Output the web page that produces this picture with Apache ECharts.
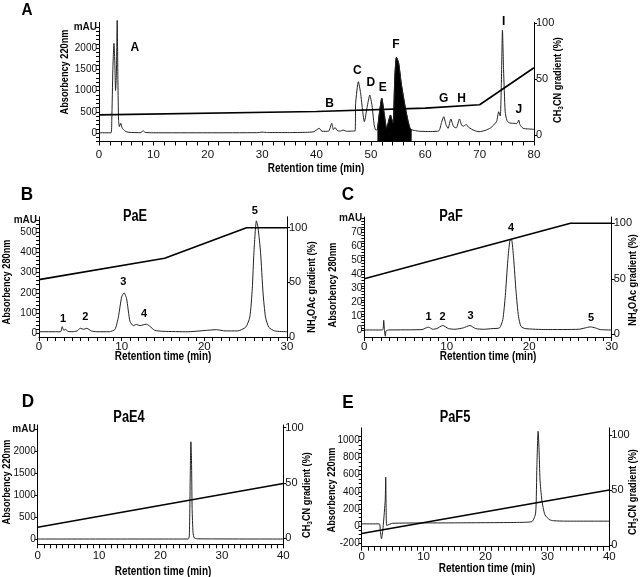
<!DOCTYPE html>
<html><head><meta charset="utf-8">
<script src="https://cdn.jsdelivr.net/npm/echarts@6/dist/echarts.min.js"></script>
<style>html,body{margin:0;padding:0;background:#fff}#c{width:640px;height:577px}</style>
</head><body><div id="c"></div><script>
const FONT = "'Liberation Sans Narrow','Arial Narrow','Liberation Sans',Arial,sans-serif";

// ---------- Panel A (crude extract, CH3CN gradient) ----------
const traceA = [[0,5],[2.2,5],[2.35,300],[2.55,1500],[2.75,2110],[2.9,1700],[3.05,1000],[3.2,1400],[3.35,2650],[3.48,1200],[3.6,300],[3.75,150],[4.0,228],[4.25,120],[4.8,45],[5.5,15],[7.7,8],[8.1,55],[8.5,15],[10,5],[20,5],[29,8],[30,20],[31,10],[35,10],[38,15],[39.5,30],[40.5,110],[41,40],[42.2,40],[42.8,228],[43.1,80],[43.4,130],[43.8,60],[44.4,45],[44.9,70],[45.5,40],[46.5,45],[47.1,50],[47.2,700],[47.7,1207],[48.1,950],[48.5,500],[48.8,266],[49.3,600],[49.8,894],[50.2,650],[50.6,200],[50.9,70],[51.2,80],[51.6,500],[52.0,816],[52.4,500],[52.9,110],[53.3,300],[53.6,424],[53.9,300],[54.1,235],[54.4,1300],[54.7,1780],[55.1,1650],[55.6,1150],[56.3,620],[56.8,300],[57.2,110],[57.5,75],[58,60],[59,40],[61,35],[62.5,50],[63.0,250],[63.4,384],[63.8,200],[64.2,110],[64.7,330],[65.2,150],[65.7,120],[66.3,330],[66.7,180],[67.1,160],[67.5,204],[68,130],[69,60],[69.9,30],[71,60],[72,120],[73.1,266],[73.5,500],[73.8,400],[74.0,1200],[74.2,2420],[74.4,1500],[74.7,500],[75.0,300],[75.3,250],[75.8,230],[76.3,228],[76.8,220],[77.0,250],[77.2,305],[77.4,200],[78,110],[79,95],[80,87]];
const fillRangeA = [51.2, 57.5];
const gradA = [[0,18],[40,21],[60,24],[70,27],[80,60]];
const labelsA = [['A',6.6,2000],['B',42.4,700],['C',47.5,1466],['D',50.0,1184],['E',52.2,1075],['F',54.6,2087],['G',63.4,816],['H',66.7,816],['I',74.4,2620],['J',77.2,541]];
const yTicksA = [0,500,1000,1500,2000,2500];

// ---------- Panel B (PaE, NH4OAc gradient) ----------
const traceB = [[0,8],[2.6,8],[2.8,33],[3.0,15],[3.2,20],[3.5,10],[4,8],[4.6,12],[5.0,25],[5.4,20],[5.8,25],[6.3,12],[7,8],[8.5,8],[9.2,20],[9.6,80],[10.0,180],[10.3,200],[10.6,170],[11.0,60],[11.4,38],[11.8,44],[12.2,38],[12.6,42],[13.0,45],[13.4,35],[14.0,15],[15,10],[18,8],[21.5,18],[22.5,12],[24,12],[25.0,30],[25.5,80],[25.8,220],[26.0,400],[26.3,555],[26.5,520],[26.8,400],[27.1,200],[27.4,80],[27.8,30],[28.5,12],[30,8]];
const gradB = [[0,52.5],[15.2,72],[25.1,100],[30,100]];
const labelsB = [['1',2.9,69],['2',5.6,79],['3',10.2,255],['4',12.7,94],['5',26.1,605]];
const yTicksB = [0,100,200,300,400,500,560];

// ---------- Panel C (PaF, NH4OAc gradient) ----------
const traceC = [[0,0.5],[2.2,0.5],[2.35,7.5],[2.45,0],[2.55,-4],[2.65,0],[3,0.5],[7,0.8],[7.5,2],[7.8,2.5],[8.3,1],[8.8,1.5],[9.5,3.7],[10.2,1.5],[11,1],[12,2],[12.8,3.7],[13.5,1.5],[14.5,1],[15.5,1.5],[16.4,2],[16.8,8],[17.1,25],[17.4,50],[17.65,64],[17.85,65],[18.1,52],[18.4,28],[18.7,10],[19.0,3],[19.5,1.5],[22,0.8],[26,1],[26.8,2],[27.4,2.7],[28,2],[28.6,0.8],[30,0.5]];
const gradC = [[0,50],[25,100],[30,100]];
const labelsC = [['1',7.8,10],['2',9.5,10],['3',12.9,10.7],['4',17.8,73],['5',27.5,8.9]];
const yTicksC = [0,10,20,30,40,50,60,70,80];

// ---------- Panel D (PaE4, CH3CN gradient) ----------
const traceD = [[0,5],[24.5,5],[24.7,100],[24.85,1500],[24.95,2218],[25.05,1800],[25.15,700],[25.3,150],[25.5,30],[26,10],[40,5]];
const gradD = [[0,10],[40,49.5]];
const yTicksD = [0,500,1000,1500,2000,2500];

// ---------- Panel E (PaF5, CH3CN gradient) ----------
const traceE = [[0,23],[2.85,23],[3.0,-60],[3.2,-152],[3.4,-60],[3.5,20],[3.8,300],[3.88,571],[3.95,200],[4.05,5],[5,30],[15,35],[25,40],[27.5,50],[28.1,150],[28.3,700],[28.5,1110],[28.65,900],[28.8,550],[29.1,305],[29.6,129],[30.4,70],[31,60],[33,55],[40,55]];
const gradE = [[0,10.5],[40,50]];
const yTicksE = [-200,0,200,400,600,800,1000,1100];

const rightTicks = [0,50,100];

function range(a, b, s) { const r = []; for (let v = a; v <= b + 1e-9; v += s) r.push(+v.toFixed(6)); return r; }

const chart = echarts.init(document.getElementById('c'), null, {renderer:'canvas'});

const grids = [
  {left:99,  right:106,  top:22.5, bottom:435.5},
  {left:39,  right:353,  top:216.8,bottom:240},
  {left:364.3,right:28.3,top:217,  bottom:240},
  {left:37.7,right:356.7,top:425,  bottom:32.7},
  {left:361.7,right:30.7,top:427.9,bottom:30.3}
].map(g => Object.assign({outerBoundsMode:'none', containLabel:false}, g));

const lblStyle = {fontSize:10, color:'#111', fontFamily:FONT};

function xAx(gi, max, labelStep, tickStep, margin) {
  return {type:'value', gridIndex:gi, min:0, max:max,
    axisLine:{show:true, onZero:false, lineStyle:{color:'#000', width:1}},
    axisTick:{show:true, inside:false, length:4, customValues:range(0,max,tickStep), lineStyle:{color:'#000'}},
    axisLabel:Object.assign({customValues:range(0,max,labelStep), margin:margin}, lblStyle, {fontSize:11.5}),
    splitLine:{show:false}};
}
function yLeft(gi, min, max, labels, ticks, topVal) {
  return {type:'value', gridIndex:gi, position:'left', min:min, max:max,
    axisLine:{show:true, onZero:false, lineStyle:{color:'#000', width:1}},
    axisTick:{show:true, inside:false, length:3, customValues:ticks, lineStyle:{color:'#000'}},
    axisLabel:Object.assign({customValues:labels, margin:2,
      formatter: v => (v === topVal ? '{b|mAU}' : String(v)),
      rich:{b:{fontWeight:'bold', fontSize:10, fontFamily:FONT, color:'#111'}}}, lblStyle),
    splitLine:{show:false}};
}
function yRight(gi, min, max) {
  return {type:'value', gridIndex:gi, position:'right', min:min, max:max,
    axisLine:{show:true, onZero:false, lineStyle:{color:'#000', width:1}},
    axisTick:{show:true, inside:false, length:3, customValues:rightTicks, lineStyle:{color:'#000'}},
    axisLabel:Object.assign({customValues:rightTicks, margin:2}, lblStyle, {fontSize:11}),
    splitLine:{show:false}};
}

const xAxes = [
  xAx(0, 80, 10, 2, 7),
  xAx(1, 30, 10, 1, 4),
  xAx(2, 30, 10, 1, 4),
  xAx(3, 40, 10, 1, 6),
  xAx(4, 40, 10, 1, 4)
];
const yAxes = [
  yLeft(0, -200, 2600, yTicksA, range(-200,2500,100), 2500), yRight(0, -5.8, 100.4),
  yLeft(1, -18, 575, yTicksB, range(0,560,20), 560), yRight(1, 0, 110),
  yLeft(2, -4.5, 81, yTicksC, range(0,80,2), 80), yRight(2, -2.4, 105.6),
  yLeft(3, -115, 2600, yTicksD, yTicksD, 2500), yRight(3, -5.4, 102.4),
  yLeft(4, -245, 1150, yTicksE, range(-200,1100,50), 1100), yRight(4, -1.5, 106.5)
];

function traceSeries(i, data, extra) {
  return Object.assign({type:'line', xAxisIndex:i, yAxisIndex:2*i, data:data, symbol:'none', showSymbol:false,
    smooth:0.2, clip:false, lineStyle:{color:'#222', width:1}, silent:true, animation:false, z:3}, extra || {});
}
function gradSeries(i, data) {
  return {type:'line', xAxisIndex:i, yAxisIndex:2*i+1, data:data, symbol:'none', showSymbol:false,
    lineStyle:{color:'#000', width:1.6}, silent:true, animation:false, z:4};
}
function labelSeries(i, arr, size) {
  return {type:'scatter', xAxisIndex:i, yAxisIndex:2*i, clip:false, symbolSize:0, silent:true, animation:false,
    itemStyle:{opacity:1, color:'#000'},
    data: arr.map(a => ({name:a[0], value:[a[1], a[2]]})),
    label:{show:true, position:[0,0], align:'center', verticalAlign:'middle', formatter:'{b}', fontWeight:'bold', fontSize:size, color:'#000', opacity:1, fontFamily:FONT}, z:5};
}

const fillA = traceA.filter(p => p[0] >= fillRangeA[0] && p[0] <= fillRangeA[1]);

const series = [
  traceSeries(0, traceA),
  traceSeries(0, fillA, {lineStyle:{color:'#000', width:1}, areaStyle:{color:'#000', opacity:1, origin:'start'}, z:2}),
  gradSeries(0, gradA), labelSeries(0, labelsA, 12),
  traceSeries(1, traceB), gradSeries(1, gradB), labelSeries(1, labelsB, 11),
  traceSeries(2, traceC), gradSeries(2, gradC), labelSeries(2, labelsC, 11),
  traceSeries(3, traceD), gradSeries(3, gradD),
  traceSeries(4, traceE), gradSeries(4, gradE)
];

function txt(x, y, text, size, rot, sx, rich) {
  const st = {text:text, fontFamily:FONT, fontWeight:'bold', fontSize:size, fill:'#000', align:'center', verticalAlign:'middle'};
  if (rich) st.rich = rich;
  return {type:'text', x:x, y:y, rotation: rot ? Math.PI/2 : 0, scaleX: sx || 1, style:st, silent:true, z:10};
}
const subRich = {t:{fontFamily:FONT, fontWeight:'bold', fontSize:11.5, fill:'#000'},
                 s:{fontFamily:FONT, fontWeight:'bold', fontSize:8, fill:'#000', padding:[6,0,0,0]}};
const ch3cn = '{t|CH}{s|3}{t|CN gradient (%)}';
const nh4 = '{t|NH}{s|4}{t|OAc gradient (%)}';
const SX = 0.8;

const graphics = [
  txt(27,10,'A',17,false,0.9), txt(27,195,'B',19,false,0.9), txt(348,195,'C',19,false,0.9), txt(28,402,'D',19,false,0.9), txt(348,403,'E',19,false,0.9),
  txt(135,217,'PaE',16,false,SX), txt(451,217,'PaF',16,false,SX), txt(129,418,'PaE4',16,false,SX), txt(455,418,'PaF5',16,false,SX),
  txt(65,72,'Absorbency 220nm',11.5,true,SX), txt(7,282,'Absorbency 280nm',11.5,true,SX), txt(333,285,'Absorbency 280nm',11.5,true,SX),
  txt(7,482,'Absorbency 220nm',11.5,true,SX), txt(332,490,'Absorbency 220nm',11.5,true,SX),
  txt(558,80,ch3cn,11.5,true,SX,subRich), txt(312,287,nh4,11.5,true,SX,subRich), txt(633,280,nh4,11.5,true,SX,subRich),
  txt(307,495,ch3cn,11.5,true,SX,subRich), txt(633,492,ch3cn,11.5,true,SX,subRich),
  txt(316,169,'Retention time (min)',12.5,false,SX), txt(163,357,'Retention time (min)',12.5,false,SX), txt(488,357,'Retention time (min)',12.5,false,SX),
  txt(163,572,'Retention time (min)',12.5,false,SX), txt(487,569,'Retention time (min)',12.5,false,SX)
];

chart.setOption({
  animation:false,
  backgroundColor:'#fff',
  grid:grids, xAxis:xAxes, yAxis:yAxes, series:series, graphic:graphics
});
</script></body></html>
